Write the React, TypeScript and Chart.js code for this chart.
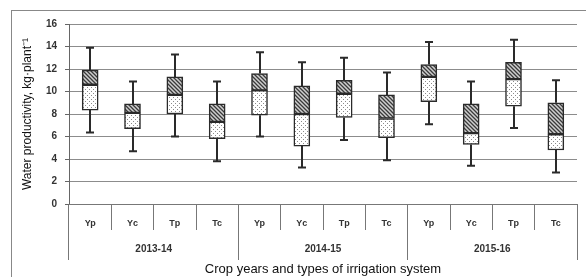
import React, { useEffect, useRef } from "react";
import { Chart, registerables } from "chart.js";

Chart.register(...registerables);

const types = ["Yp", "Yc", "Tp", "Tc"];
const years = ["2013-14", "2014-15", "2015-16"];
const yTicks = [0, 2, 4, 6, 8, 10, 12, 14, 16];

const whiskerMax = [13.9, 10.9, 13.3, 10.9, 13.5, 12.6, 13.0, 11.7, 14.4, 10.9, 14.6, 11.0];
const q3 = [11.9, 8.9, 11.3, 8.9, 11.6, 10.5, 11.0, 9.7, 12.4, 8.9, 12.6, 9.0];
const median = [10.6, 8.1, 9.7, 7.3, 10.1, 8.0, 9.8, 7.6, 11.3, 6.3, 11.1, 6.2];
const q1 = [8.35, 6.7, 8.0, 5.8, 7.9, 5.15, 7.7, 5.9, 9.1, 5.3, 8.7, 4.8];
const whiskerMin = [6.35, 4.7, 6.0, 3.8, 6.0, 3.25, 5.7, 3.9, 7.1, 3.4, 6.75, 2.8];

const labels = years.flatMap(() => types);

function makeHatch(): CanvasPattern | string {
  const c = document.createElement("canvas");
  c.width = 4;
  c.height = 4;
  const g = c.getContext("2d");
  if (!g) return "#777";
  g.fillStyle = "#cfcfcf";
  g.fillRect(0, 0, 4, 4);
  g.strokeStyle = "#3a3a3a";
  g.lineWidth = 1.3;
  g.beginPath();
  g.moveTo(-1, -1);
  g.lineTo(5, 5);
  g.moveTo(-1, 3);
  g.lineTo(1, 5);
  g.moveTo(3, -1);
  g.lineTo(5, 1);
  g.stroke();
  return g.createPattern(c, "repeat") || "#777";
}

function makeDots(): CanvasPattern | string {
  const c = document.createElement("canvas");
  c.width = 4;
  c.height = 4;
  const g = c.getContext("2d");
  if (!g) return "#eee";
  g.fillStyle = "#ffffff";
  g.fillRect(0, 0, 4, 4);
  g.fillStyle = "#8a8a8a";
  g.fillRect(1, 1, 1, 1);
  g.fillRect(3, 3, 1, 1);
  return g.createPattern(c, "repeat") || "#eee";
}

const whiskerPlugin = {
  id: "whiskers",
  beforeDatasetsDraw(chart: any) {
    const { ctx, scales } = chart;
    const x = scales.x;
    const y = scales.y;
    ctx.save();
    ctx.strokeStyle = "#2a2a2a";
    ctx.lineWidth = 2;
    labels.forEach((_, i) => {
      const px = Math.round(x.getPixelForValue(i));
      const top = y.getPixelForValue(whiskerMax[i]);
      const boxTop = y.getPixelForValue(q3[i]);
      const boxBot = y.getPixelForValue(q1[i]);
      const bot = y.getPixelForValue(whiskerMin[i]);
      ctx.beginPath();
      ctx.moveTo(px, top);
      ctx.lineTo(px, boxTop);
      ctx.moveTo(px, boxBot);
      ctx.lineTo(px, bot);
      ctx.moveTo(px - 4, top);
      ctx.lineTo(px + 4, top);
      ctx.moveTo(px - 4, bot);
      ctx.lineTo(px + 4, bot);
      ctx.stroke();
    });
    ctx.restore();
  },
};

export default function App() {
  const ref = useRef<HTMLCanvasElement | null>(null);

  useEffect(() => {
    if (!ref.current) return;
    const hatch = makeHatch();
    const dots = makeDots();
    const chart = new Chart(ref.current, {
      type: "bar",
      data: {
        labels,
        datasets: [
          {
            label: "lower",
            data: labels.map((_, i) => [q1[i], median[i]]) as any,
            backgroundColor: dots as any,
            borderColor: "#2a2a2a",
            borderWidth: 1.5,
            borderSkipped: false,
            barThickness: 16,
            grouped: false,
          } as any,
          {
            label: "upper",
            data: labels.map((_, i) => [median[i], q3[i]]) as any,
            backgroundColor: hatch as any,
            borderColor: "#2a2a2a",
            borderWidth: 1.5,
            borderSkipped: false,
            barThickness: 16,
            grouped: false,
          } as any,
        ],
      },
      options: {
        responsive: false,
        animation: false,
        layout: { padding: { left: 12, top: 24, right: 9, bottom: 0 } },
        plugins: {
          legend: { display: false },
          tooltip: { enabled: false },
        },
        scales: {
          y: {
            min: 0,
            max: 16,
            afterBuildTicks: (s: any) => {
              s.ticks = yTicks.map((v) => ({ value: v }));
            },
            afterFit: (s: any) => {
              s.width = 57;
            },
            grid: { color: "#8c8c8c", lineWidth: 1, tickLength: 4, tickColor: "#666" },
            border: { display: true, color: "#666", width: 1 },
            ticks: {
              padding: 8,
              color: "#333",
              font: { family: "Liberation Sans", size: 10, weight: "bold" },
            },
            title: {
              display: true,
              text: "Water productivity, kg·plant⁻¹",
              color: "#111",
              padding: 8,
              font: { family: "Liberation Sans", size: 12 },
            },
          },
          x: {
            type: "category",
            position: "bottom",
            weight: 0,
            offset: true,
            afterFit: (s: any) => {
              s.height = 26;
            },
            grid: {
              offset: true,
              drawOnChartArea: false,
              tickLength: 26,
              color: "#777",
              tickColor: "#777",
            },
            border: { display: true, color: "#777" },
            ticks: {
              padding: -12,
              color: "#333",
              maxRotation: 0,
              autoSkip: false,
              font: { family: "Liberation Sans", size: 9, weight: "bold" },
            },
          },
          x2: {
            type: "category",
            position: "bottom",
            weight: 1,
            labels: years,
            offset: true,
            afterFit: (s: any) => {
              s.height = 47;
            },
            grid: {
              offset: true,
              drawOnChartArea: false,
              tickLength: 30,
              color: "#777",
              tickColor: "#777",
            },
            border: { display: false },
            ticks: {
              padding: -17,
              color: "#333",
              maxRotation: 0,
              autoSkip: false,
              font: { family: "Liberation Sans", size: 10, weight: "bold" },
            },
            title: {
              display: true,
              text: "Crop years and types of irrigation system",
              color: "#111",
              padding: { top: 0, bottom: 0 },
              font: { family: "Liberation Sans", size: 13 },
            },
          },
        },
      } as any,
      plugins: [whiskerPlugin],
    });
    return () => chart.destroy();
  }, []);

  return (
    <div
      style={{
        position: "fixed",
        left: 0,
        top: 0,
        width: 586,
        height: 277,
        background: "#fff",
        overflow: "hidden",
      }}
    >
      <div
        style={{
          position: "absolute",
          left: 11,
          top: 10,
          width: 700,
          height: 400,
          borderLeft: "1px solid #888",
          borderTop: "1px solid #888",
        }}
      />
      <canvas ref={ref} width={586} height={277} style={{ position: "absolute", left: 0, top: 0 }} />
    </div>
  );
}
